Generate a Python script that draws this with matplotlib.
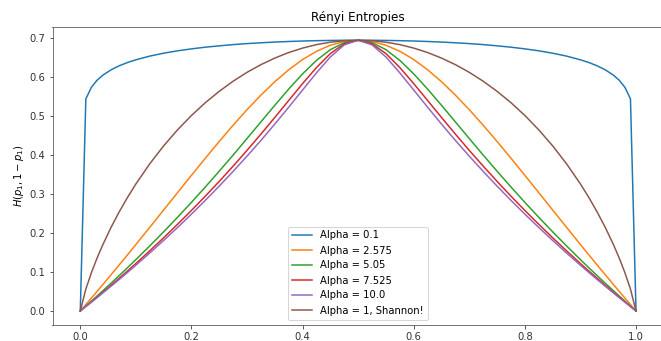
import matplotlib
matplotlib.use("Agg")
import matplotlib.pyplot as plt

p1 = [0.0, 0.01, 0.02, 0.03, 0.04, 0.055, 0.07, 0.085, 0.1, 0.125, 0.15, 0.175, 0.2, 0.225, 0.25,
      0.275, 0.3, 0.325, 0.35, 0.375, 0.4, 0.425, 0.45, 0.475, 0.5,
      0.525, 0.55, 0.575, 0.6, 0.625, 0.65, 0.675, 0.7, 0.725, 0.75, 0.775, 0.8, 0.825, 0.85,
      0.875, 0.9, 0.915, 0.93, 0.945, 0.96, 0.97, 0.98, 0.99, 1.0]

h_alpha_0_1 = [0.0, 0.5429, 0.5726, 0.5904, 0.6030, 0.6171, 0.6277, 0.6361, 0.6430, 0.6525, 0.6599,
               0.6660, 0.6710, 0.6753, 0.6788, 0.6819, 0.6845, 0.6866, 0.6884, 0.6899, 0.6911, 0.6920,
               0.6926, 0.6930, 0.6931,
               0.6930, 0.6926, 0.6920, 0.6911, 0.6899, 0.6884, 0.6866, 0.6845, 0.6819, 0.6788, 0.6753,
               0.6710, 0.6660, 0.6599, 0.6525, 0.6430, 0.6361, 0.6277, 0.6171, 0.6030, 0.5904, 0.5726,
               0.5429, 0.0]
h_alpha_2_575 = [0.0, 0.0164, 0.0330, 0.0497, 0.0666, 0.0921, 0.1178, 0.1438, 0.1701, 0.2141, 0.2585,
                 0.3029, 0.3472, 0.3910, 0.4339, 0.4755, 0.5153, 0.5526, 0.5869, 0.6175, 0.6437, 0.6648,
                 0.6803, 0.6899, 0.6931,
                 0.6899, 0.6803, 0.6648, 0.6437, 0.6175, 0.5869, 0.5526, 0.5153, 0.4755, 0.4339, 0.3910,
                 0.3472, 0.3029, 0.2585, 0.2141, 0.1701, 0.1438, 0.1178, 0.0921, 0.0666, 0.0497, 0.0330,
                 0.0164, 0.0]
h_alpha_5_05 = [0.0, 0.0125, 0.0252, 0.0380, 0.0509, 0.0705, 0.0905, 0.1108, 0.1314, 0.1665, 0.2026,
                0.2398, 0.2780, 0.3174, 0.3578, 0.3991, 0.4414, 0.4840, 0.5265, 0.5680, 0.6070, 0.6415,
                0.6690, 0.6869, 0.6931,
                0.6869, 0.6690, 0.6415, 0.6070, 0.5680, 0.5265, 0.4840, 0.4414, 0.3991, 0.3578, 0.3174,
                0.2780, 0.2398, 0.2026, 0.1665, 0.1314, 0.1108, 0.0905, 0.0705, 0.0509, 0.0380, 0.0252,
                0.0125, 0.0]
h_alpha_7_525 = [0.0, 0.0116, 0.0233, 0.0351, 0.0471, 0.0652, 0.0837, 0.1024, 0.1215, 0.1540, 0.1874,
                 0.2219, 0.2573, 0.2939, 0.3317, 0.3708, 0.4111, 0.4527, 0.4954, 0.5388, 0.5820, 0.6232,
                 0.6589, 0.6840, 0.6931,
                 0.6840, 0.6589, 0.6232, 0.5820, 0.5388, 0.4954, 0.4527, 0.4111, 0.3708, 0.3317, 0.2939,
                 0.2573, 0.2219, 0.1874, 0.1540, 0.1215, 0.1024, 0.0837, 0.0652, 0.0471, 0.0351, 0.0233,
                 0.0116, 0.0]
h_alpha_10 = [0.0, 0.0112, 0.0224, 0.0338, 0.0454, 0.0629, 0.0806, 0.0987, 0.1171, 0.1484, 0.1806,
              0.2137, 0.2479, 0.2832, 0.3196, 0.3573, 0.3963, 0.4366, 0.4784, 0.5216, 0.5657, 0.6096,
              0.6503, 0.6812, 0.6931,
              0.6812, 0.6503, 0.6096, 0.5657, 0.5216, 0.4784, 0.4366, 0.3963, 0.3573, 0.3196, 0.2832,
              0.2479, 0.2137, 0.1806, 0.1484, 0.1171, 0.0987, 0.0806, 0.0629, 0.0454, 0.0338, 0.0224,
              0.0112, 0.0]
h_shannon = [0.0, 0.0560, 0.0980, 0.1347, 0.1679, 0.2130, 0.2536, 0.2908, 0.3251, 0.3768, 0.4227,
             0.4637, 0.5004, 0.5332, 0.5623, 0.5882, 0.6109, 0.6306, 0.6474, 0.6616, 0.6730, 0.6819,
             0.6881, 0.6919, 0.6931,
             0.6919, 0.6881, 0.6819, 0.6730, 0.6616, 0.6474, 0.6306, 0.6109, 0.5882, 0.5623, 0.5332,
             0.5004, 0.4637, 0.4227, 0.3768, 0.3251, 0.2908, 0.2536, 0.2130, 0.1679, 0.1347, 0.0980,
             0.0560, 0.0]

series = [
    ("Alpha = 0.1", h_alpha_0_1),
    ("Alpha = 2.575", h_alpha_2_575),
    ("Alpha = 5.05", h_alpha_5_05),
    ("Alpha = 7.525", h_alpha_7_525),
    ("Alpha = 10.0", h_alpha_10),
    ("Alpha = 1, Shannon!", h_shannon),
]
colors = ["#1f77b4", "#ff7f0e", "#2ca02c", "#d62728", "#9467bd", "#8c564b"]

plt.rcParams['font.family'] = ['DejaVu Sans']
fig = plt.figure(figsize=(661 / 72, 341 / 72), dpi=72)
ax = fig.add_axes([52.5 / 661, (341 - 324.5) / 341, (663.8 - 52.5) / 661, (324.5 - 26.7) / 341])

for (lab, vals), c in zip(series, colors):
    ax.plot(p1, vals, label=lab, color=c, linewidth=1.5)

ax.set_xlim(-0.05, 1.05)
ax.set_ylim(-0.03466, 0.72776)
ax.set_xticks([0.0, 0.2, 0.4, 0.6, 0.8, 1.0])
ax.set_yticks([0.0, 0.1, 0.2, 0.3, 0.4, 0.5, 0.6, 0.7])
ax.set_title("Rényi Entropies", fontsize=12)
ax.set_ylabel("$H(p_1, 1-p_1)$", fontsize=10)
for s in ax.spines.values():
    s.set_color("#555555")
ax.tick_params(colors="#333333", labelcolor="#333333", labelsize=10)
ax.legend(loc="lower center", fontsize=10)

fig.savefig("out.png", dpi=72)
